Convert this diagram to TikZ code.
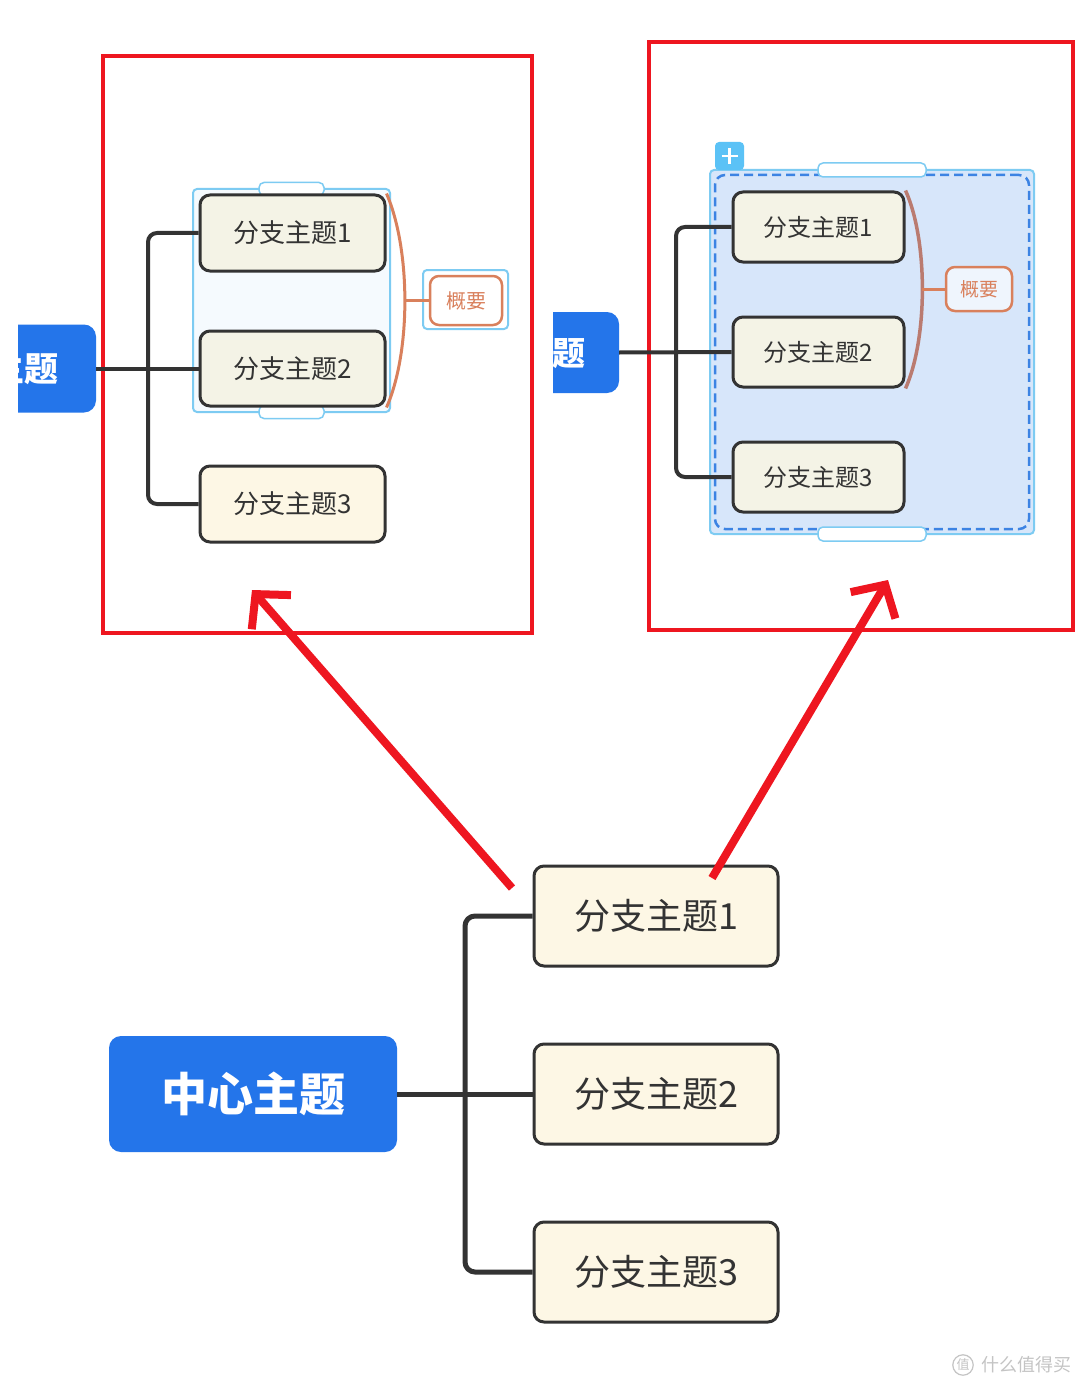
\documentclass[tikz,border=0pt]{standalone}
\usepackage{fontspec}
\setmainfont{Noto Sans CJK SC}
\usetikzlibrary{arrows.meta,calc}
\definecolor{redframe}{HTML}{EE1620}
\definecolor{topicblue}{HTML}{2475EA}
\definecolor{linedark}{HTML}{333333}
\definecolor{fillsel}{HTML}{F4F3E6}
\definecolor{fillbr}{HTML}{FDF7E5}
\definecolor{selblue}{HTML}{7DCBF2}
\definecolor{selfillL}{HTML}{F5FAFE}
\definecolor{selfillR}{HTML}{D7E6FA}
\definecolor{dashblue}{HTML}{3C83E3}
\definecolor{plusblue}{HTML}{5BC2F6}
\definecolor{sumorange}{HTML}{D9805C}
\definecolor{sumbrown}{HTML}{BA7B70}
\definecolor{wmgray}{HTML}{C4C4C4}
\tikzset{
  centertopic/.style={fill=topicblue, draw=none, rounded corners=12pt, text=white, font=\bfseries},
  branchbox/.style={draw=linedark, line width=3pt, rounded corners=10pt, text=linedark, inner sep=0pt},
  conn/.style={draw=linedark, line width=4pt, rounded corners=9pt},
  selbox/.style={draw=selblue, line width=2pt, rounded corners=4pt},
  handlebox/.style={draw=selblue, fill=white, line width=1.5pt, rounded corners=5pt, inner sep=0pt},
  sumbox/.style={draw=sumorange, fill=white, line width=2.5pt, rounded corners=9pt, text=sumorange, inner sep=0pt},
  redarrow/.style={draw=redframe, line width=8pt, -{Straight Barb[length=24pt,width=52pt,line width=8pt]}},
  frame/.style={draw=redframe, line width=3.5pt}
}
\begin{document}
\begin{tikzpicture}[x=1pt,y=-1pt]
\path[use as bounding box, fill=white] (0,0) rectangle (1080,1388);

% ---------------- red frames ----------------
\draw[frame] (103,56) rectangle (532,633);
\draw[frame] (649,42) rectangle (1073,630);

% ---------------- left panel ----------------
\begin{scope}
\clip (18,0) rectangle (200,1388);
\node[centertopic, minimum width=210pt, minimum height=88pt, font=\bfseries\fontsize{34}{40}\selectfont] (LC) at (-9,368.5) {中心主题};
\end{scope}
\node[selbox, fill=selfillL, minimum width=197pt, minimum height=223pt] (LSel) at (291.5,300.5) {};
\node[handlebox, minimum width=65pt, minimum height=13pt] (LH1) at (291.5,189) {};
\node[handlebox, minimum width=65pt, minimum height=13pt] (LH2) at (291.5,412) {};
\node[branchbox, fill=fillsel, minimum width=185pt, minimum height=76pt, font=\fontsize{26}{30}\selectfont] (L1) at (292.5,233) {分支主题1};
\node[branchbox, fill=fillsel, minimum width=185pt, minimum height=75pt, font=\fontsize{26}{30}\selectfont] (L2) at (292.5,368.5) {分支主题2};
\node[branchbox, fill=fillbr, minimum width=185pt, minimum height=76pt, font=\fontsize{26}{30}\selectfont] (L3) at (292.5,504) {分支主题3};
\coordinate (LT) at (148,368.5);
\draw[conn] (LC.east) -- (L2.west);
\draw[conn] (L1.west) -- (L1.west -| LT) -- (L3.west -| LT) -- (L3.west);
\node[selbox, minimum width=85pt, minimum height=59pt] (LSS) at (465.5,299.5) {};
\node[sumbox, minimum width=72pt, minimum height=49pt, font=\fontsize{20}{24}\selectfont] (LS) at (466,300.5) {概要};
\coordinate (LB) at (405,300.5);
\draw[draw=sumorange, line width=3pt] (L1.north east) .. controls (411,250) and (411,352) .. (L2.south east);
\draw[draw=sumorange, line width=3pt] (LB) -- (LS.west);

% ---------------- right panel ----------------
\begin{scope}
\clip (553,0) rectangle (700,1388);
\node[centertopic, minimum width=200pt, minimum height=81pt, font=\bfseries\fontsize{33}{40}\selectfont] (RC) at (519,352.5) {中心主题};
\end{scope}
\node[selbox, fill=selfillR, minimum width=324pt, minimum height=364pt] (RSel) at (872,352) {};
\node[draw=dashblue, dash pattern=on 9pt off 5pt, line width=2.5pt, rounded corners=10pt, minimum width=314pt, minimum height=354pt] (RDash) at (872,352) {};
\node[handlebox, minimum width=108pt, minimum height=14pt] (RH1) at (872,170) {};
\node[handlebox, minimum width=108pt, minimum height=14pt] (RH2) at (872,534) {};
\node[fill=plusblue, rounded corners=4pt, minimum width=29pt, minimum height=28pt, inner sep=0pt] (RPlus) at (729.5,156) {};
\draw[white, line width=2.5pt] ($(RPlus.center)+(-8,0)$) -- ($(RPlus.center)+(8,0)$);
\draw[white, line width=2.5pt] ($(RPlus.center)+(0,-8)$) -- ($(RPlus.center)+(0,8)$);
\node[branchbox, fill=fillsel, minimum width=171pt, minimum height=70pt, font=\fontsize{24}{28}\selectfont] (R1) at (818.5,227) {分支主题1};
\node[branchbox, fill=fillsel, minimum width=171pt, minimum height=70pt, font=\fontsize{24}{28}\selectfont] (R2) at (818.5,352) {分支主题2};
\node[branchbox, fill=fillsel, minimum width=171pt, minimum height=70pt, font=\fontsize{24}{28}\selectfont] (R3) at (818.5,477) {分支主题3};
\coordinate (RT) at (676,352);
\draw[conn] (RC.east) -- (R2.west);
\draw[conn] (R1.west) -- (R1.west -| RT) -- (R3.west -| RT) -- (R3.west);
\node[sumbox, fill=white!60!selfillR, minimum width=66pt, minimum height=44pt, font=\fontsize{19}{22}\selectfont] (RS) at (979,289) {概要};
\coordinate (RB) at (922,289);
\draw[draw=sumbrown, line width=3.5pt] (R1.north east) .. controls (928,240) and (928,338) .. (R2.south east);
\draw[draw=sumorange, line width=3pt] (RB) -- (RS.west);

% ---------------- bottom mind map ----------------
\node[centertopic, minimum width=288pt, minimum height=116pt, font=\bfseries\fontsize{46}{52}\selectfont] (C) at (253,1094) {中心主题};
\node[branchbox, fill=fillbr, minimum width=244pt, minimum height=100pt, font=\fontsize{36}{42}\selectfont] (B1) at (656,916) {分支主题1};
\node[branchbox, fill=fillbr, minimum width=244pt, minimum height=100pt, font=\fontsize{36}{42}\selectfont] (B2) at (656,1094) {分支主题2};
\node[branchbox, fill=fillbr, minimum width=244pt, minimum height=100pt, font=\fontsize{36}{42}\selectfont] (B3) at (656,1272) {分支主题3};
\coordinate (BT) at (465,1094);
\draw[conn, line width=5pt] (C.east) -- (B2.west);
\draw[conn, line width=5pt, rounded corners=10pt] (B1.west) -- (B1.west -| BT) -- (B3.west -| BT) -- (B3.west);

% ---------------- red arrows ----------------
\coordinate (A1s) at (512,888);
\coordinate (A1e) at (252,590);
\coordinate (A2s) at (712,878);
\coordinate (A2e) at (888,580);
\draw[redarrow] (A1s) -- (A1e);
\draw[redarrow] (A2s) -- (A2e);

% ---------------- watermark ----------------
\node[draw=wmgray, circle, line width=1.2pt, inner sep=1pt, text=wmgray, font=\fontsize{13}{14}\selectfont] (WM) at (963,1365) {值};
\node[anchor=west, text=wmgray, font=\fontsize{18}{20}\selectfont] (WT) at (978,1365) {什么值得买};
\end{tikzpicture}
\end{document}
